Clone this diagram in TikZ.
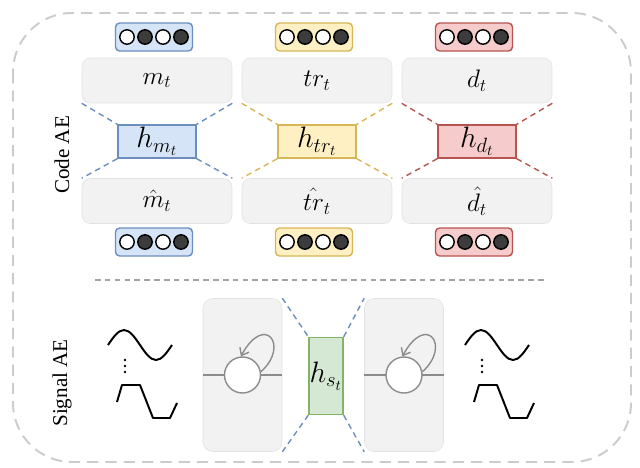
\documentclass[tikz,border=0pt]{standalone}
\usepackage{fix-cm}
\usepackage{fontspec}
\setmainfont{Liberation Serif}
\usetikzlibrary{arrows.meta,positioning,calc}
\definecolor{BlueFill}{HTML}{D6E4F7}
\definecolor{BlueLine}{HTML}{6C8EBF}
\definecolor{YellowFill}{HTML}{FFF0C4}
\definecolor{YellowLine}{HTML}{D6B656}
\definecolor{RedFill}{HTML}{F6CBCB}
\definecolor{RedLine}{HTML}{B85450}
\definecolor{GreenFill}{HTML}{D5E8D4}
\definecolor{GreenLine}{HTML}{82B366}
\definecolor{BoxFill}{HTML}{F2F2F2}
\definecolor{BoxLine}{HTML}{E2E2E2}
\definecolor{Frame}{HTML}{CCCCCC}
\definecolor{Wire}{HTML}{8C8C8C}
\definecolor{Dot}{HTML}{3C3C3C}
\tikzset{
  layerbox/.style={draw=BoxLine,fill=BoxFill,rounded corners=6pt,minimum width=3.75cm,minimum height=1.125cm,font=\fontsize{18}{20}\selectfont},
  onehot/.style={rounded corners=3pt,line width=1pt,minimum width=1.925cm,minimum height=0.7cm},
  bit/.style={circle,draw=black,line width=1pt,minimum size=0.36cm,inner sep=0pt},
  codebox/.style={line width=1pt,minimum width=1.95cm,minimum height=0.825cm,inner sep=0pt,font=\fontsize{21}{24}\selectfont},
  link/.style={line width=1pt,dash pattern=on 4pt off 3pt},
  rnnbox/.style={draw=BoxLine,fill=BoxFill,rounded corners=7pt,minimum width=1.975cm,minimum height=3.825cm},
  cell/.style={circle,draw=Wire,fill=white,line width=1pt,minimum size=0.9cm,inner sep=0pt},
  loopline/.style={draw=Wire,line width=1pt,-{Straight Barb[length=1.6mm,width=2.6mm]}},
  wave/.style={line width=1.4pt,line join=round}
}
\begin{document}
\begin{tikzpicture}[x=0.025cm,y=-0.025cm]
  \useasboundingbox (0,0) rectangle (640,468);
  % outer frame
  \draw[Frame,line width=1.4pt,dash pattern=on 8pt off 5pt,rounded corners=42pt] (13,13) rectangle (631,462);
  \node[rotate=90,font=\fontsize{15}{17}\selectfont] (codelab) at (62,155) {Code AE};
  \node[rotate=90,font=\fontsize{15}{17}\selectfont] (siglab) at (62,383) {Signal AE};

  % code autoencoders
  \foreach \id/\cx/\fc/\dc/\sym/\hsym in {m/157/BlueFill/BlueLine/m/{\hat{m}},tr/317/YellowFill/YellowLine/tr/{\hat{tr}},d/477/RedFill/RedLine/d/{\hat{d}}}{
    \node[onehot,draw=\dc,fill=\fc] (in\id) at (\cx-3,37) {};
    \node[layerbox] (top\id) at (\cx,80.5) {$\sym_t$};
    \node[codebox,draw=\dc,fill=\fc] (h\id) at (\cx,141.5) {$h_{\sym_t}$};
    \node[layerbox] (bot\id) at (\cx,201) {$\hsym_t$};
    \node[onehot,draw=\dc,fill=\fc] (out\id) at (\cx-3,242) {};
    \foreach \k/\c in {-27/white,-9/Dot,9/white,27/Dot}{
      \node[bit,fill=\c] at ([xshift=\k*0.025cm]in\id.center) {};
      \node[bit,fill=\c] at ([xshift=\k*0.025cm]out\id.center) {};
    }
    \draw[link,draw=\dc] (top\id.south west) -- (h\id.north west);
    \draw[link,draw=\dc] (top\id.south east) -- (h\id.north east);
    \draw[link,draw=\dc] (h\id.south west) -- (bot\id.north west);
    \draw[link,draw=\dc] (h\id.south east) -- (bot\id.north east);
  }

  \draw[Wire!80,line width=0.9pt,dash pattern=on 4pt off 3pt] (95,280) -- (545,280);

  % signal autoencoder
  \node[rnnbox] (lrnn) at (242.5,375) {};
  \node[rnnbox] (rrnn) at (404,375) {};
  \draw[Wire,line width=1pt] (lrnn.west) -- (lrnn.east);
  \draw[Wire,line width=1pt] (rrnn.west) -- (rrnn.east);
  \node[cell] (lcell) at (lrnn.center) {};
  \node[cell] (rcell) at (rrnn.center) {};
  \draw[loopline] (lcell.10) .. controls +(29,-26) and +(24,-44) .. (lcell.95);
  \draw[loopline] (rcell.10) .. controls +(29,-26) and +(24,-44) .. (rcell.95);
  \node[codebox,draw=GreenLine,fill=GreenFill,minimum width=0.85cm,minimum height=1.925cm] (hs) at (326,376) {$h_{s_t}$};
  \draw[link,draw=BlueLine] (lrnn.north east) -- (hs.north west);
  \draw[link,draw=BlueLine] (lrnn.south east) -- (hs.south west);
  \draw[link,draw=BlueLine] (hs.north east) -- (rrnn.north west);
  \draw[link,draw=BlueLine] (hs.south east) -- (rrnn.south west);

  % input and output signals
  \foreach \sx in {0,357}{
    \begin{scope}[xshift=\sx*0.025cm]
      \draw[wave] (108,345) sin (124,330) cos (140,345) sin (156,360) cos (172,345);
      \foreach \dy in {360,366,372}{ \fill (125,\dy) circle (0.9pt); }
      \draw[wave] (117,402) -- (122,385) -- (140,385) -- (153,418) -- (170,418) -- (177,403);
    \end{scope}
  }
\end{tikzpicture}
\end{document}
